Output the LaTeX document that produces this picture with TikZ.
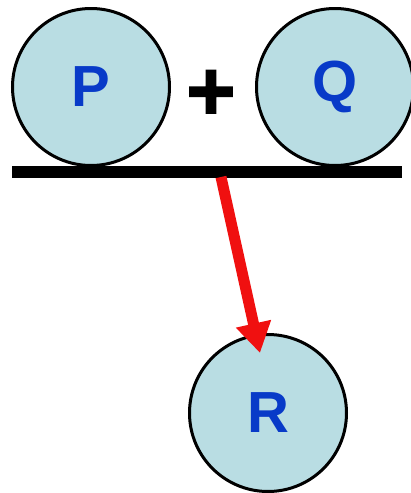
\documentclass[tikz,border=0pt]{standalone}
\usepackage{fontspec}
\setmainfont{Liberation Sans}
\newfontfamily\plusfont[BoldFeatures={FakeBold=2}]{Liberation Sans}
\usetikzlibrary{arrows.meta,calc}
\definecolor{ballfill}{RGB}{185,221,227}
\definecolor{letterblue}{RGB}{8,58,200}
\definecolor{arrowred}{RGB}{240,16,16}
\begin{document}
\begin{tikzpicture}[x=1pt,y=1pt,
  ball/.style={circle,draw=black,line width=3pt,fill=ballfill,minimum size=157pt,inner sep=0pt,
    text=letterblue,font=\fontsize{58}{60}\selectfont\bfseries},
  bar/.style={line width=12pt,black},
  plussign/.style={font=\plusfont\fontsize{84}{86}\selectfont\bfseries,text=black,inner sep=0pt},
  redarrow/.style={arrowred,line width=11pt,-{Triangle[length=30pt,width=34pt]}}]
\useasboundingbox (0,0) rectangle (410,-493);
\node[ball] (P) at (91,-87) {P};
\node[ball] (Q) at (335,-87) {Q};
\node[plussign] (plus) at (211,-95) {+};
\node[ball] (R) at (268,-413) {R};
\coordinate (barL) at (12,-172);
\coordinate (barR) at (402,-172);
\draw[bar] (barL) -- (barR);
\coordinate (start) at (221,-177);
\coordinate (tip) at ($(R.center)+(-8,60)$);
\draw[redarrow] (start) -- (tip);
\end{tikzpicture}
\end{document}
